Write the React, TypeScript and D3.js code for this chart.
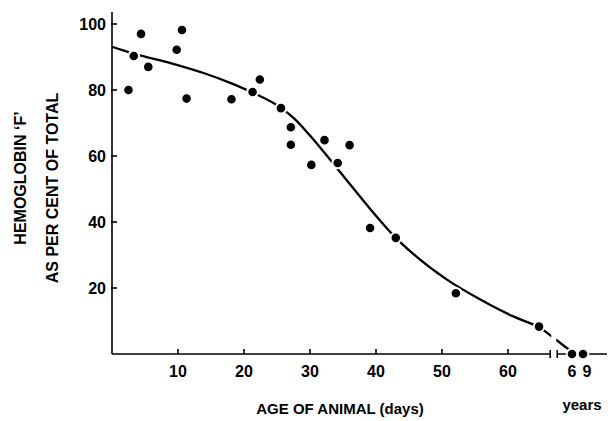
import React from 'react';
import * as d3 from 'd3';

// observations (age in days, % hemoglobin F)
const ageDays = [2.5, 3.3, 4.4, 5.5, 9.8, 10.6, 11.3, 18.1, 21.3, 22.4, 25.6, 27.1, 27.1, 30.2, 32.2, 34.2, 36, 39.1, 43, 52.1, 64.7];
const hbF = [80, 90.3, 97, 87, 92.2, 98.2, 77.4, 77.2, 79.4, 83.2, 74.5, 68.7, 63.4, 57.3, 64.8, 57.9, 63.3, 38.2, 35.2, 18.4, 8.3];

// adult animals (age in years)
const ageYears = [6, 9];
const hbFAdult = [0, 0];

// fitted curve
const curveDays = [0, 3.3, 9, 14.1, 18.1, 21.2, 25.6, 27.7, 30, 33, 36, 38.6, 43, 45.6, 50.7, 55.8, 60.8, 64.7];
const curveVals = [93.1, 91, 88.1, 85, 82, 79.3, 74.6, 71.2, 66.2, 59, 51.6, 45.2, 35.2, 30.4, 22.6, 16.5, 11.4, 8.3];

const dayTicks = [10, 20, 30, 40, 50, 60];
const yTicks = [20, 40, 60, 80, 100];

const W = 610;
const H = 421;
const font = "'Liberation Sans', Arial, sans-serif";

export default function App() {
  const x = d3.scaleLinear().domain([0, 60]).range([112, 508]);
  const xYears = d3.scaleLinear().domain([6, 9]).range([572, 583]);
  const y = d3.scaleLinear().domain([0, 100]).range([354, 24]);

  const breakAt = 66.4;
  const axisY = y(0);
  const leftX = x(0);

  const line = d3.line<number>()
    .x((_, i) => x(curveDays[i]))
    .y(d => y(d))
    .curve(d3.curveMonotoneX);

  const lastI = curveDays.length - 1;
  const tail = `M${x(curveDays[lastI])},${y(curveVals[lastI])}L${xYears(6)},${y(0.6)}`;

  return (
    <svg width={W} height={H} style={{ position: 'absolute', left: 0, top: 0, background: '#fff' }}>
      {/* axes */}
      <g stroke="#000" strokeWidth={1.6} fill="none">
        <line x1={leftX} x2={leftX} y1={axisY} y2={y(103.6)} />
        <line x1={leftX} x2={x(breakAt)} y1={axisY} y2={axisY} />
        <line x1={x(breakAt) + 7} x2={607} y1={axisY} y2={axisY} />
        {yTicks.map(t => (
          <line key={t} x1={leftX - 1} x2={leftX + 5} y1={y(t)} y2={y(t)} />
        ))}
        {dayTicks.map(t => (
          <line key={t} x1={x(t)} x2={x(t)} y1={axisY} y2={axisY - 5} />
        ))}
      </g>

      {/* fitted curve */}
      <path d={line(curveVals) ?? ''} fill="none" stroke="#000" strokeWidth={2.3} />
      <path d={tail} fill="none" stroke="#000" strokeWidth={2.3} />

      {/* axis break */}
      <rect x={x(breakAt) + 1} y={axisY - 22} width={5} height={30} fill="#fff" />
      <g stroke="#000" strokeWidth={1.6}>
        <line x1={x(breakAt)} x2={x(breakAt)} y1={axisY - 4} y2={axisY + 4} />
        <line x1={x(breakAt) + 7} x2={x(breakAt) + 7} y1={axisY - 4} y2={axisY + 4} />
      </g>

      {/* points */}
      <g fill="#000" stroke="#fff" strokeWidth={2}>
        {ageDays.map((d, i) => (
          <circle key={i} cx={x(d)} cy={y(hbF[i])} r={5.3} />
        ))}
        {ageYears.map((d, i) => (
          <circle key={'a' + i} cx={xYears(d)} cy={y(hbFAdult[i])} r={5.3} />
        ))}
      </g>

      {/* tick labels */}
      <g fontFamily={font} fontWeight="bold" fontSize={16} fill="#000">
        {yTicks.map(t => (
          <text key={t} x={leftX - 6} y={y(t)} dy="0.36em" textAnchor="end">{t}</text>
        ))}
        {dayTicks.map(t => (
          <text key={t} x={x(t)} y={axisY + 23} textAnchor="middle">{t}</text>
        ))}
        {ageYears.map(t => (
          <text key={t} x={xYears(t) + (t === 9 ? 4 : 0)} y={axisY + 23} textAnchor="middle">{t}</text>
        ))}
      </g>

      {/* titles */}
      <g fontFamily={font} fontWeight="bold" fill="#000">
        <text x={340} y={414} fontSize={15} textAnchor="middle">AGE OF ANIMAL (days)</text>
        <text x={582} y={410} fontSize={15} textAnchor="middle">years</text>
        <text transform="translate(26,178) rotate(-90)" fontSize={16} textAnchor="middle">HEMOGLOBIN ‘F’</text>
        <text transform="translate(58,188) rotate(-90)" fontSize={16} textAnchor="middle">AS PER CENT OF TOTAL</text>
      </g>
    </svg>
  );
}
